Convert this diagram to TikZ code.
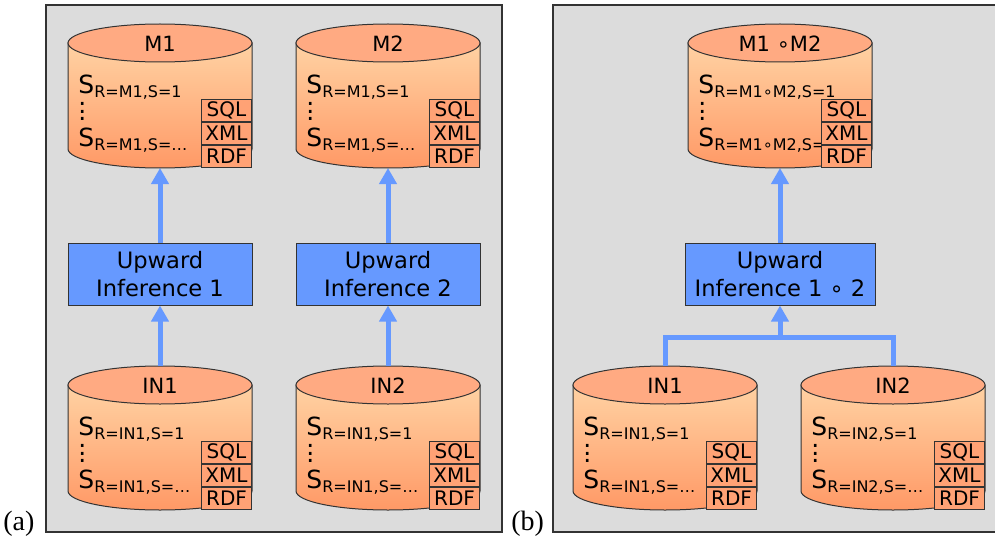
\documentclass[tikz,border=0pt]{standalone}
\usepackage{fontspec}
\setmainfont{DejaVu Sans}
\newfontfamily\capfont{Liberation Serif}
\usepackage{tikz}
\usetikzlibrary{arrows.meta,positioning,calc}
\definecolor{PanelGray}{HTML}{DCDCDC}
\definecolor{FlowBlue}{HTML}{6699FF}
\definecolor{DbTop}{HTML}{FFAA82}
\definecolor{DbLight}{HTML}{FFD2A3}
\definecolor{DbDark}{HTML}{FF9966}
\definecolor{DbBox}{HTML}{FFA275}
\definecolor{EdgeGray}{HTML}{333333}

\tikzset{
  dbframe/.style={rectangle,minimum width=92pt,minimum height=72pt,inner sep=0pt,outer sep=0pt},
  dbbody/.style={top color=DbLight,bottom color=DbDark,draw=EdgeGray,line width=0.5pt},
  dbcap/.style={fill=DbTop,draw=EdgeGray,line width=0.5pt},
  dbtitle/.style={inner sep=0pt,font=\fontsize{10.5}{12}\selectfont},
  dbrows/.style={anchor=north west,inner sep=0pt,align=left,
                 font=\fontsize{12.5}{13.25}\selectfont},
  fmt/.style={rectangle,draw=EdgeGray,fill=DbBox,line width=0.5pt,minimum width=25pt,
              minimum height=11pt,inner sep=0pt,font=\fontsize{10}{11}\selectfont}
}
% S with its lowered index
\newcommand{\Srow}[1]{S\raisebox{-1.6pt}{\fontsize{8}{8}\selectfont #1}}
\newcommand{\dotcol}{\vbox{\baselineskip3.7pt\lineskiplimit0pt\hbox{.}\hbox{.}\hbox{.}}}
% one database: name, position, title, index
\newcommand{\dbnode}[4]{%
  \node[dbframe] (#1) at #2 {};
  \shade[dbbody] ([yshift=-9.5pt]#1.north west) -- ([yshift=9.5pt]#1.south west)
    arc[start angle=180,end angle=360,x radius=46pt,y radius=9.5pt]
    -- ([yshift=-9.5pt]#1.north east) -- cycle;
  \filldraw[dbcap] ([yshift=-9.5pt]#1.north) ellipse[x radius=46pt,y radius=9.5pt];
  \node[dbtitle] (#1-t) at ([yshift=-10pt]#1.north) {#3};
  \node[dbrows] (#1-s) at ([xshift=5pt,yshift=-25.5pt]#1.north west)
    {\Srow{R=#4,S=1}\\ \dotcol\\ \Srow{R=#4,S=…}};
  \node[fmt,anchor=south east] (#1-rdf) at (#1.south east) {RDF};
  \node[fmt,above=0pt of #1-rdf] (#1-xml) {XML};
  \node[fmt,above=0pt of #1-xml] (#1-sql) {SQL};
}

\begin{document}
\begin{tikzpicture}[x=0.5pt,y=0.5pt,
  infer/.style={rectangle,fill=FlowBlue,draw=EdgeGray,line width=0.5pt,minimum width=92pt,
                minimum height=31pt,inner sep=0pt,align=center,
                font=\fontsize{11.3}{14}\selectfont},
  uparrow/.style={-{Triangle[length=8pt,width=8.5pt]},line width=2.5pt,FlowBlue},
  upline/.style={line width=2.5pt,FlowBlue},
  panel/.style={fill=PanelGray,draw=EdgeGray,line width=0.8pt},
  panellabel/.style={anchor=base west,inner sep=0pt,font=\capfont\fontsize{14}{15}\selectfont}
]
  \useasboundingbox (0,0) rectangle (995,-540);
  \draw[panel] (46,-5) rectangle (502,-532);
  \draw[panel] (553,-5) rectangle (1000,-532);
  \node[panellabel] (la) at (3,-530) {(a)};
  \node[panellabel] (lb) at (511,-530) {(b)};

  % (a)
  \dbnode{m1}{(160,-96)}{M1}{M1}
  \dbnode{m2}{(388,-96)}{M2}{M1}
  \dbnode{in1}{(160,-438)}{IN1}{IN1}
  \dbnode{in2}{(388,-438)}{IN2}{IN1}
  \node[infer] (ui1) at (160,-274) {Upward\\Inference 1};
  \node[infer] (ui2) at (388,-274) {Upward\\Inference 2};
  \draw[uparrow] (in1) -- (ui1);
  \draw[uparrow] (ui1) -- (m1);
  \draw[uparrow] (in2) -- (ui2);
  \draw[uparrow] (ui2) -- (m2);

  % (b)
  \dbnode{m12}{(780,-96)}{M1 ∘M2}{M1∘M2}
  \dbnode{bin1}{(665,-438)}{IN1}{IN1}
  \dbnode{bin2}{(893,-438)}{IN2}{IN2}
  \node[infer,minimum width=95pt] (ui12) at (780,-274) {Upward\\Inference 1 ∘ 2};
  \coordinate (join) at (780,-337);
  \draw[upline] (bin1.north) |- (join) -| (bin2.north);
  \draw[uparrow] (join) -- (ui12);
  \draw[uparrow] (ui12) -- (m12);
\end{tikzpicture}
\end{document}
